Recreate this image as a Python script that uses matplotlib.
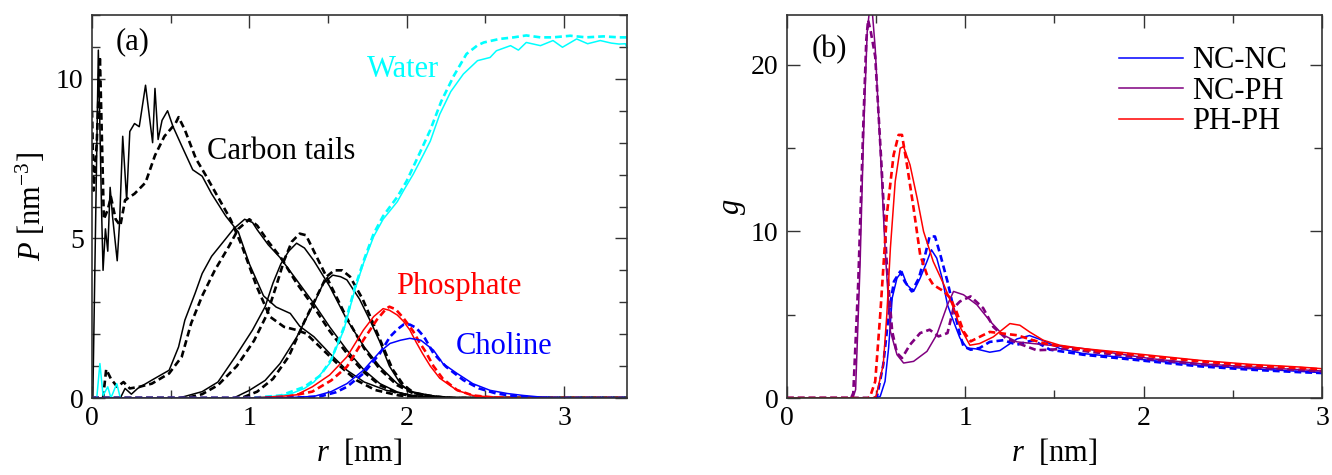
import matplotlib
matplotlib.use("Agg")
import matplotlib.pyplot as plt
from matplotlib.ticker import MultipleLocator

plt.rcParams['font.family'] = 'serif'
plt.rcParams['font.serif'] = ['Liberation Serif', 'DejaVu Serif']
plt.rcParams['mathtext.fontset'] = 'custom'
plt.rcParams['mathtext.rm'] = 'Liberation Serif'
plt.rcParams['mathtext.it'] = 'Liberation Serif:italic'

# ---- panel (a): density profiles, solid / dashed pairs ----
c1_x = [0.005, 0.04, 0.06, 0.07, 0.085, 0.10, 0.115, 0.13, 0.16, 0.175, 0.195, 0.22, 0.24, 0.27, 0.30, 0.34, 0.385,
        0.40, 0.42, 0.445, 0.48, 0.515, 0.57, 0.64, 0.70, 0.76, 0.85, 0.93, 1.00, 1.09, 1.17, 1.26, 1.32, 1.41, 1.51,
        1.62, 1.73, 1.87, 2.04, 2.2, 3.4]
c1_y = [0.0, 10.9, 6.0, 4.0, 5.3, 4.6, 6.6, 5.7, 4.3, 5.5, 8.2, 6.2, 8.35, 8.6, 8.5, 9.8, 8.0,
        9.7, 8.1, 8.7, 9.0, 8.5, 7.9, 7.15, 6.95, 6.4, 5.7, 5.2, 4.2, 3.2, 2.85, 2.65, 2.25, 1.92, 1.4,
        0.87, 0.5, 0.24, 0.08, 0.0, 0.0]
c1d_x = [0.0, 0.01, 0.03, 0.05, 0.075, 0.10, 0.12, 0.15, 0.18, 0.21, 0.27, 0.34, 0.40, 0.46, 0.53, 0.55, 0.59, 0.66,
         0.72, 0.80, 0.88, 0.95, 1.046, 1.13, 1.22, 1.30, 1.36, 1.47, 1.58, 1.68, 1.80, 1.95, 2.15, 3.4]
c1d_y = [9.0, 6.5, 8.0, 10.7, 5.6, 5.9, 6.3, 5.6, 5.4, 6.2, 6.4, 6.75, 7.6, 8.2, 8.6, 8.8, 8.4, 7.5,
         7.0, 6.3, 5.6, 4.8, 3.5, 2.55, 2.23, 2.13, 2.02, 1.5, 0.98, 0.56, 0.25, 0.08, 0.0, 0.0]

c2_x = [0.0, 0.18, 0.21, 0.25, 0.29, 0.38, 0.49, 0.55, 0.59, 0.655, 0.70, 0.76, 0.845, 0.90, 0.97, 1.02, 1.05, 1.12,
        1.195, 1.30, 1.41, 1.51, 1.62, 1.73, 1.83, 1.94, 2.06, 2.2, 3.4]
c2_y = [0.0, 0.0, 0.3, 0.12, 0.3, 0.56, 0.87, 1.6, 2.44, 3.28, 3.9, 4.44, 4.96, 5.3, 5.6, 5.5, 5.27, 4.8,
        4.4, 3.7, 2.96, 2.23, 1.5, 0.87, 0.45, 0.19, 0.03, 0.0, 0.0]
c2d_x = [0.0, 0.07, 0.09, 0.12, 0.16, 0.20, 0.24, 0.30, 0.38, 0.49, 0.57, 0.63, 0.70, 0.78, 0.87, 0.93, 1.00, 1.05,
         1.12, 1.20, 1.30, 1.41, 1.51, 1.62, 1.73, 1.83, 1.94, 2.06, 2.2, 3.4]
c2d_y = [0.0, 0.0, 0.9, 0.6, 0.35, 0.5, 0.3, 0.35, 0.45, 0.77, 1.29, 2.34, 3.2, 4.0, 4.75, 5.3, 5.6, 5.4,
         4.9, 4.4, 3.6, 2.85, 2.1, 1.4, 0.8, 0.4, 0.15, 0.03, 0.0, 0.0]

c3_x = [0.0, 0.55, 0.59, 0.70, 0.80, 0.91, 1.02, 1.10, 1.15, 1.20, 1.25, 1.30, 1.35, 1.41, 1.51, 1.62, 1.73, 1.83,
        1.94, 2.04, 2.15, 2.3, 3.4]
c3_y = [0.0, 0.0, 0.05, 0.2, 0.5, 1.29, 2.13, 2.86, 3.6, 4.2, 4.6, 4.85, 4.7, 4.3, 3.5, 2.45, 1.6, 0.98,
        0.45, 0.19, 0.08, 0.0, 0.0]
c3d_x = [0.0, 0.6, 0.70, 0.80, 0.92, 1.03, 1.11, 1.17, 1.22, 1.27, 1.32, 1.36, 1.41, 1.51, 1.62, 1.73, 1.83, 1.94,
         2.04, 2.15, 2.3, 3.4]
c3d_y = [0.0, 0.0, 0.12, 0.4, 1.0, 1.8, 2.6, 3.5, 4.3, 4.9, 5.15, 5.1, 4.6, 3.6, 2.5, 1.55, 0.9, 0.4,
         0.15, 0.05, 0.0, 0.0]

c4_x = [0.0, 0.9, 1.0, 1.1, 1.195, 1.30, 1.41, 1.47, 1.53, 1.58, 1.62, 1.70, 1.77, 1.83, 1.89, 1.96, 2.02, 2.15,
        2.3, 3.4]
c4_y = [0.0, 0.0, 0.24, 0.55, 1.08, 1.9, 2.96, 3.59, 3.85, 3.8, 3.7, 3.1, 2.4, 1.75, 1.0, 0.45, 0.2, 0.05,
        0.0, 0.0]
c4d_x = [0.0, 0.95, 1.05, 1.15, 1.25, 1.35, 1.43, 1.49, 1.54, 1.59, 1.64, 1.72, 1.79, 1.85, 1.91, 1.98, 2.05, 2.2,
         2.3, 3.4]
c4d_y = [0.0, 0.0, 0.2, 0.6, 1.3, 2.4, 3.2, 3.8, 4.0, 4.0, 3.8, 3.1, 2.3, 1.6, 0.9, 0.4, 0.15, 0.03,
         0.0, 0.0]

water_x = [0.0, 0.03, 0.05, 0.07, 0.10, 0.12, 0.157, 0.18, 1.0, 1.15, 1.258, 1.35, 1.41, 1.51, 1.60, 1.67, 1.725,
           1.79, 1.85, 1.94, 1.98, 2.04, 2.085, 2.15, 2.21, 2.28, 2.36, 2.45, 2.53, 2.57, 2.66, 2.71, 2.76, 2.85,
           2.93, 2.99, 3.08, 3.15, 3.23, 3.30, 3.35, 3.39, 3.4]
water_y = [0.0, 0.0, 1.08, 0.08, 0.35, 0.0, 0.45, 0.0, 0.0, 0.05, 0.12, 0.3, 0.5, 1.08, 2.13, 3.38, 4.22,
           5.06, 5.6, 6.15, 6.5, 7.0, 7.42, 8.05, 8.89, 9.6, 10.15, 10.57, 10.67, 10.88, 11.04, 10.9, 11.14, 11.04,
           11.2, 10.99, 11.25, 11.1, 11.2, 11.12, 11.09, 11.1, 10.98]
waterd_x = [0.0, 1.0, 1.2, 1.35, 1.45, 1.52, 1.60, 1.67, 1.73, 1.79, 1.85, 1.94, 2.0, 2.085, 2.15, 2.22, 2.30,
            2.38, 2.45, 2.49, 2.59, 2.68, 2.76, 2.85, 2.93, 3.04, 3.14, 3.25, 3.35, 3.4]
waterd_y = [0.0, 0.0, 0.08, 0.35, 0.7, 1.2, 2.2, 3.45, 4.35, 5.15, 5.7, 6.3, 6.8, 7.7, 8.4, 9.3, 10.1,
            10.78, 11.05, 11.14, 11.25, 11.3, 11.36, 11.3, 11.3, 11.35, 11.3, 11.33, 11.3, 11.3]

phos_x = [0.0, 1.0, 1.2, 1.30, 1.40, 1.51, 1.62, 1.725, 1.79, 1.85, 1.89, 1.94, 1.98, 2.02, 2.06, 2.10, 2.15,
          2.21, 2.32, 2.42, 2.53, 2.7, 3.4]
phos_y = [0.0, 0.0, 0.05, 0.1, 0.35, 0.72, 1.29, 2.13, 2.55, 2.8, 2.75, 2.6, 2.4, 2.13, 1.75, 1.4, 1.0,
          0.62, 0.24, 0.08, 0.03, 0.0, 0.0]
phosd_x = [0.0, 1.05, 1.25, 1.40, 1.52, 1.62, 1.725, 1.81, 1.87, 1.89, 1.93, 1.98, 2.04, 2.08, 2.12, 2.17, 2.23,
           2.32, 2.42, 2.55, 2.7, 3.4]
phosd_y = [0.0, 0.0, 0.05, 0.2, 0.55, 0.98, 1.82, 2.45, 2.8, 2.86, 2.78, 2.5, 2.1, 1.75, 1.45, 1.0, 0.6,
           0.25, 0.08, 0.02, 0.0, 0.0]

chol_x = [0.0, 1.2, 1.41, 1.52, 1.62, 1.725, 1.83, 1.894, 1.96, 2.02, 2.09, 2.17, 2.23, 2.32, 2.42, 2.53, 2.64,
          2.74, 2.85, 3.0, 3.4]
chol_y = [0.0, 0.0, 0.05, 0.2, 0.45, 0.87, 1.45, 1.71, 1.81, 1.87, 1.81, 1.5, 1.08, 0.77, 0.45, 0.24, 0.14,
          0.08, 0.03, 0.0, 0.0]
chold_x = [0.0, 1.25, 1.45, 1.55, 1.62, 1.725, 1.83, 1.894, 1.94, 1.98, 2.02, 2.06, 2.11, 2.17, 2.25, 2.36, 2.46,
           2.57, 2.7, 2.85, 3.4]
chold_y = [0.0, 0.0, 0.05, 0.18, 0.35, 0.77, 1.4, 1.92, 2.15, 2.3, 2.3, 2.2, 1.92, 1.4, 0.98, 0.56, 0.3,
           0.14, 0.05, 0.0, 0.0]

# ---- panel (b): radial distribution functions ----
ncnc_x = [0.0, 0.50, 0.523, 0.55, 0.57, 0.59, 0.617, 0.645, 0.673, 0.71, 0.747, 0.785, 0.81, 0.84, 0.87, 0.90,
          0.934, 0.97, 1.01, 1.06, 1.137, 1.194, 1.29, 1.36, 1.437, 1.53, 1.66, 1.85, 2.035, 2.316, 2.6, 2.876, 3.0]
ncnc_y = [0.0, 0.0, 0.1, 1.0, 3.0, 6.0, 7.2, 7.6, 6.8, 6.4, 7.2, 8.2, 8.9, 8.4, 7.2, 5.6,
          4.6, 3.6, 3.0, 2.95, 2.75, 2.85, 3.55, 3.75, 3.45, 2.97, 2.67, 2.47, 2.26, 1.96, 1.76, 1.6, 1.52]
ncncd_x = [0.0, 0.49, 0.505, 0.54, 0.57, 0.60, 0.635, 0.66, 0.70, 0.74, 0.775, 0.80, 0.83, 0.86, 0.90, 0.934,
           0.97, 0.99, 1.03, 1.08, 1.137, 1.213, 1.29, 1.38, 1.475, 1.57, 1.66, 1.85, 2.035, 2.316, 2.6, 2.876, 3.0]
ncncd_y = [0.0, 0.0, 0.1, 2.0, 5.0, 7.0, 7.6, 7.0, 6.4, 7.2, 8.6, 9.7, 9.7, 8.6, 7.0, 5.4,
           3.8, 3.1, 2.9, 3.0, 3.37, 3.47, 3.2, 3.47, 2.9, 2.75, 2.6, 2.4, 2.2, 1.9, 1.7, 1.55, 1.5]

ncph_x = [0.0, 0.37, 0.385, 0.41, 0.43, 0.45, 0.465, 0.48, 0.495, 0.523, 0.55, 0.58, 0.617, 0.654, 0.71, 0.785,
          0.84, 0.90, 0.934, 0.99, 1.065, 1.14, 1.21, 1.29, 1.38, 1.475, 1.57, 1.66, 1.85, 2.035, 2.316, 2.6,
          2.876, 3.0]
ncph_y = [0.0, 0.0, 0.5, 8.0, 16.0, 22.0, 23.5, 23.0, 21.0, 15.0, 9.0, 4.0, 2.6, 2.1, 2.2, 2.8,
          3.8, 5.6, 6.4, 6.2, 5.6, 4.6, 3.8, 3.37, 3.27, 3.17, 3.07, 2.97, 2.67, 2.37, 2.06, 1.86,
          1.7, 1.62]
ncphd_x = [0.0, 0.36, 0.372, 0.40, 0.43, 0.445, 0.455, 0.47, 0.495, 0.53, 0.56, 0.59, 0.617, 0.645, 0.69, 0.747,
           0.80, 0.85, 0.90, 0.934, 0.97, 1.03, 1.10, 1.157, 1.23, 1.325, 1.40, 1.475, 1.57, 1.70, 1.85, 2.035,
           2.316, 2.6, 2.876, 3.0]
ncphd_y = [0.0, 0.0, 0.3, 7.0, 17.0, 21.5, 22.7, 22.0, 20.5, 14.0, 8.0, 4.0, 2.7, 2.4, 3.2, 3.9,
           4.1, 3.7, 3.9, 5.4, 5.8, 6.1, 5.4, 4.27, 3.57, 3.17, 2.87, 2.9, 2.97, 2.77, 2.6, 2.33,
           2.03, 1.84, 1.68, 1.6]

phph_x = [0.0, 0.48, 0.50, 0.54, 0.56, 0.58, 0.607, 0.635, 0.654, 0.69, 0.73, 0.766, 0.82, 0.88, 0.934, 0.97,
          1.026, 1.08, 1.157, 1.25, 1.306, 1.36, 1.437, 1.53, 1.66, 1.85, 2.035, 2.316, 2.6, 2.876, 3.0]
phph_y = [0.0, 0.0, 0.1, 2.0, 5.0, 9.0, 13.0, 15.0, 15.1, 14.0, 12.0, 10.0, 8.2, 6.8, 5.4, 4.27,
          3.17, 3.27, 3.67, 4.47, 4.37, 3.97, 3.47, 3.17, 2.97, 2.77, 2.57, 2.26, 2.02, 1.86, 1.76]
phphd_x = [0.0, 0.455, 0.467, 0.495, 0.523, 0.56, 0.598, 0.626, 0.645, 0.673, 0.71, 0.747, 0.785, 0.82, 0.88,
           0.916, 0.95, 0.99, 1.03, 1.08, 1.137, 1.213, 1.29, 1.38, 1.475, 1.66, 1.85, 2.035, 2.316, 2.6, 2.876, 3.0]
phphd_y = [0.0, 0.0, 0.1, 1.0, 5.0, 11.0, 14.6, 15.8, 15.8, 14.0, 11.4, 8.6, 7.4, 6.8, 6.4,
           6.0, 5.2, 4.0, 3.4, 3.67, 3.97, 3.87, 3.77, 3.47, 3.2, 2.9, 2.7, 2.5, 2.2, 1.95, 1.8, 1.72]

SOLID = dict(lw=1.1)
DASH = dict(lw=1.9, ls=(0, (2.6, 1.5)))
PURPLE = '#800080'

fig = plt.figure(figsize=(13.32, 4.75), dpi=100)
ax1 = fig.add_axes([0.0691, 0.1621, 0.4016, 0.8063])
ax2 = fig.add_axes([0.5908, 0.1621, 0.4017, 0.8063])

# (a)
for xs, ys, xd, yd in [(c1_x, c1_y, c1d_x, c1d_y), (c2_x, c2_y, c2d_x, c2d_y),
                       (c3_x, c3_y, c3d_x, c3d_y), (c4_x, c4_y, c4d_x, c4d_y)]:
    ax1.plot(xs, ys, color='black', **SOLID)
    ax1.plot(xd, yd, color='black', **DASH)
ax1.plot(water_x, water_y, color='cyan', **SOLID)
ax1.plot(waterd_x, waterd_y, color='cyan', **DASH)
ax1.plot(phos_x, phos_y, color='red', **SOLID)
ax1.plot(phosd_x, phosd_y, color='red', **DASH)
ax1.plot(chol_x, chol_y, color='blue', **SOLID)
ax1.plot(chold_x, chold_y, color='blue', **DASH)

ax1.set_xlim(0, 3.4)
ax1.set_ylim(0, 12)
ax1.xaxis.set_major_locator(MultipleLocator(1))
ax1.xaxis.set_minor_locator(MultipleLocator(0.5))
ax1.yaxis.set_major_locator(MultipleLocator(5))
ax1.yaxis.set_minor_locator(MultipleLocator(1))
ax1.set_xlabel(r'$r$  [nm]', fontsize=22, labelpad=4)
ax1.set_ylabel(r'$P$ [nm$^{-3}$]', fontsize=22, labelpad=6)

ax1.text(0.15, 11.15, '(a)', fontsize=22, va='center')
ax1.text(0.73, 7.73, 'Carbon tails', fontsize=22, va='center')
ax1.text(1.75, 10.3, 'Water', fontsize=22, va='center', color='cyan')
ax1.text(1.93, 3.48, 'Phosphate', fontsize=22, va='center', color='red')
ax1.text(2.31, 1.62, 'Choline', fontsize=22, va='center', color='blue')

# (b)
ax2.plot(ncnc_x, ncnc_y, color='blue', label='NC-NC', **SOLID)
ax2.plot(ncncd_x, ncncd_y, color='blue', **DASH)
ax2.plot(ncph_x, ncph_y, color=PURPLE, label='NC-PH', **SOLID)
ax2.plot(ncphd_x, ncphd_y, color=PURPLE, **DASH)
ax2.plot(phph_x, phph_y, color='red', label='PH-PH', **SOLID)
ax2.plot(phphd_x, phphd_y, color='red', **DASH)

ax2.set_xlim(0, 3)
ax2.set_ylim(0, 23)
ax2.xaxis.set_major_locator(MultipleLocator(1))
ax2.xaxis.set_minor_locator(MultipleLocator(0.5))
ax2.yaxis.set_major_locator(MultipleLocator(10))
ax2.yaxis.set_minor_locator(MultipleLocator(5))
ax2.set_xlabel(r'$r$  [nm]', fontsize=22, labelpad=4)
ax2.set_ylabel(r'$g$', fontsize=22, labelpad=2)
ax2.text(0.14, 20.9, '(b)', fontsize=22, va='center')
ax2.legend(loc='upper right', bbox_to_anchor=(0.969, 0.966), frameon=False, fontsize=22,
           handlelength=2.1, handletextpad=0.3, labelspacing=0.05, borderaxespad=0.2)

for ax in (ax1, ax2):
    for sp in ax.spines.values():
        sp.set_color('#333333')
        sp.set_linewidth(1.2)
    ax.tick_params(which='both', direction='in', top=True, right=True, width=1.0,
                   labelsize=20, pad=6, color='#333333')
    ax.tick_params(which='major', length=9)
    ax.tick_params(which='minor', length=6)

plt.savefig('out.png', dpi=100)
